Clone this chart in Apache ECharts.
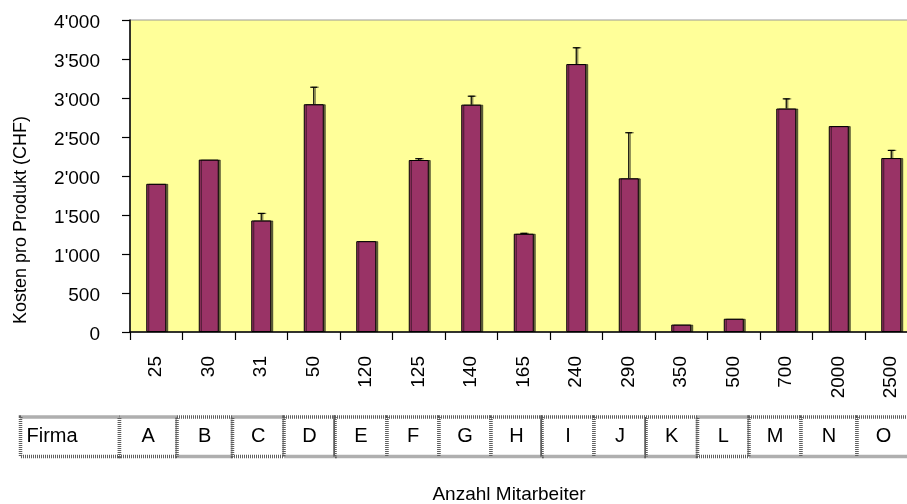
<!DOCTYPE html>
<html>
<head>
<meta charset="utf-8">
<script src="https://cdn.jsdelivr.net/npm/echarts@6/dist/echarts.min.js"></script>
<style>
  html, body { margin: 0; padding: 0; background: #fff; }
  #chart { width: 907px; height: 504px; }
</style>
</head>
<body>
<div id="chart"></div>
<script>
// ---- Data ----
const employees = ['25', '30', '31', '50', '120', '125', '140', '165', '240', '290', '350', '500', '700', '2000', '2500'];
const firms = ['A', 'B', 'C', 'D', 'E', 'F', 'G', 'H', 'I', 'J', 'K', 'L', 'M', 'N', 'O'];
const costs = [1900, 2210, 1430, 2920, 1165, 2205, 2915, 1260, 3435, 1970, 95, 170, 2865, 2640, 2230];
const errors = [0, 0, 90, 218, 0, 17, 108, 5, 209, 585, 0, 0, 124, 0, 98];
const yTicks = [0, 500, 1000, 1500, 2000, 2500, 3000, 3500, 4000];

// ---- Layout (decoration only) ----
const FONT = "'Liberation Sans', Arial, sans-serif";
const tableEdges = [20.5, 119.5, 177, 232.5, 284, 335, 387, 439, 491, 542, 594, 646, 697.5, 749, 801, 857, 910];
const tableTop = 417, tableBottom = 456.5;

const chart = echarts.init(document.getElementById('chart'), null, { renderer: 'canvas' });

function fmt(v) {
  const s = String(Math.round(v));
  return s.replace(/\B(?=(\d{3})+(?!\d))/g, "'");
}

const errData = costs.map((v, i) => [i, v, v + errors[i]]);

const option = {
  animation: false,
  backgroundColor: '#fff',
  grid: {
    left: 130, top: 20, right: -10.5, bottom: 172,
    show: true, backgroundColor: '#FFFF99', borderColor: '#9a9a9a', borderWidth: 1,
    containLabel: false, outerBoundsMode: 'none'
  },
  xAxis: {
    type: 'category',
    data: employees,
    boundaryGap: true,
    axisLine: { lineStyle: { color: '#000', width: 1.5 } },
    axisTick: { show: true, length: 8, lineStyle: { color: '#000', width: 1.2 } },
    axisLabel: { rotate: 90, margin: 24, fontSize: 19, color: '#000', fontFamily: FONT },
    splitLine: { show: false }
  },
  yAxis: {
    type: 'value',
    min: 0, max: 4000, interval: 500,
    axisLine: { show: true, lineStyle: { color: '#000', width: 1.5 } },
    axisTick: { show: true, length: 8, lineStyle: { color: '#000', width: 1.2 } },
    axisLabel: { show: false },
    splitLine: { show: false }
  },
  series: [
    {
      type: 'bar',
      data: costs,
      barWidth: 20,
      itemStyle: {
        color: '#993366', borderColor: '#000', borderWidth: 1,
        shadowColor: 'rgba(0,0,0,0.55)', shadowOffsetX: 2, shadowOffsetY: 0, shadowBlur: 0
      },
      z: 2
    },
    {
      type: 'custom',
      z: 3,
      data: errData,
      renderItem: function (params, api) {
        const i = api.value(0), v = api.value(1), up = api.value(2);
        if (up <= v) return null;
        const p0 = api.coord([i, v]);
        const p1 = api.coord([i, up]);
        const half = 3.5;
        const st = { stroke: '#000', lineWidth: 1.2, shadowColor: 'rgba(0,0,0,0.5)', shadowOffsetX: 1.5, shadowBlur: 0 };
        return {
          type: 'group',
          children: [
            { type: 'line', shape: { x1: p0[0], y1: p0[1], x2: p1[0], y2: p1[1] }, style: st },
            { type: 'line', shape: { x1: p1[0] - half, y1: p1[1], x2: p1[0] + half, y2: p1[1] }, style: st }
          ]
        };
      }
    }
  ]
};
chart.setOption(option);

// ---- Decorations: y tick labels (placed through the y scale), table, titles ----
const graphics = [];
const axisX = chart.convertToPixel({ xAxisIndex: 0 }, employees[0]) - 26.25;
yTicks.forEach(function (t) {
  const py = chart.convertToPixel({ yAxisIndex: 0 }, t);
  graphics.push({
    type: 'text', silent: true, z: 5,
    x: 130 - 30, y: py + 3,
    style: { text: fmt(t), fill: '#000', fontSize: 19, fontFamily: FONT, align: 'right', verticalAlign: 'middle' }
  });
});
for (let i = 0; i < tableEdges.length - 1; i++) {
  const x0 = tableEdges[i], x1 = tableEdges[i + 1];
  graphics.push({
    type: 'rect', silent: true, z: 10,
    shape: { x: x0, y: tableTop, width: x1 - x0, height: tableBottom - tableTop },
    style: { fill: '#fff', stroke: '#5e5e5e', lineWidth: 3.5, lineDash: [1, 1] }
  });
  const label = i === 0 ? 'Firma' : firms[i - 1];
  graphics.push({
    type: 'text', silent: true, z: 11,
    x: i === 0 ? x0 + 6 : (x0 + x1) / 2,
    y: (tableTop + tableBottom) / 2,
    style: {
      text: label, fill: '#000', fontSize: 20, fontFamily: FONT,
      align: i === 0 ? 'left' : 'center', verticalAlign: 'middle'
    }
  });
}
graphics.push({
  type: 'text', silent: true, x: 509, y: 495,
  style: { text: 'Anzahl Mitarbeiter', fill: '#000', fontSize: 19, fontFamily: FONT, align: 'center', verticalAlign: 'middle' }
});
graphics.push({
  type: 'text', silent: true, x: 21, y: 220, rotation: Math.PI / 2,
  style: { text: 'Kosten pro Produkt (CHF)', fill: '#000', fontSize: 18, fontFamily: FONT, align: 'center', verticalAlign: 'middle' }
});
chart.setOption({ graphic: graphics });
</script>
</body>
</html>
